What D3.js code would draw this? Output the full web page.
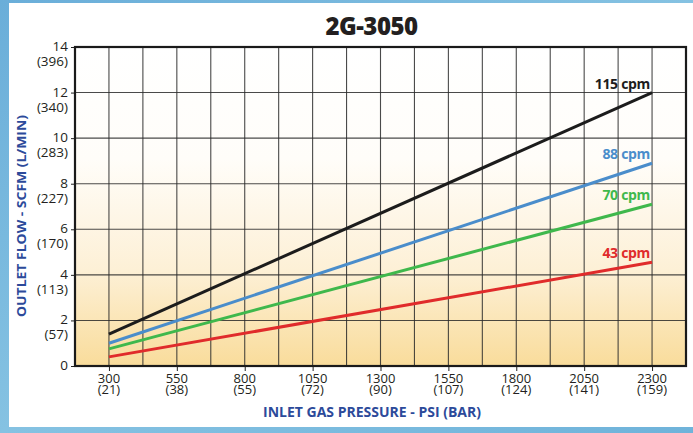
<!DOCTYPE html>
<html>
<head>
<meta charset="utf-8">
<script src="https://cdn.jsdelivr.net/npm/d3@7"></script>
<style>
html,body{margin:0;padding:0;background:#7ab6da;}
svg{display:block;}
</style>
</head>
<body>
<svg id="chart" width="693" height="433"></svg>
<script>
// ---- data ----
const pressures = [300, 2300];
const seriesNames = ["115 cpm", "88 cpm", "70 cpm", "43 cpm"];
const seriesColors = ["#1c1c1c", "#4a8dcb", "#3fb84c", "#e02b2b"];
const flow115 = [1.4, 12.0];
const flow88 = [1.0, 8.9];
const flow70 = [0.75, 7.1];
const flow43 = [0.4, 4.55];
const xTickPsi = [300, 550, 800, 1050, 1300, 1550, 1800, 2050, 2300];
const xTickBar = ["(21)", "(38)", "(55)", "(72)", "(90)", "(107)", "(124)", "(141)", "(159)"];
const yTickScfm = [0, 2, 4, 6, 8, 10, 12, 14];
const yTickLmin = ["", "(57)", "(113)", "(170)", "(227)", "(283)", "(340)", "(396)"];

const seriesValues = [flow115, flow88, flow70, flow43];

const svg = d3.select("#chart");
const W = 693, H = 433;
const font = "'Open Sans', 'Noto Sans', sans-serif";

// frame
const defs = svg.append("defs");
const bgGrad = defs.append("linearGradient").attr("id", "bgGrad")
  .attr("x1", 0).attr("y1", 0).attr("x2", 0).attr("y2", 1);
bgGrad.append("stop").attr("offset", "0%").attr("stop-color", "#ffffff");
bgGrad.append("stop").attr("offset", "35%").attr("stop-color", "#fffdf9");
bgGrad.append("stop").attr("offset", "70%").attr("stop-color", "#fdf0d6");
bgGrad.append("stop").attr("offset", "100%").attr("stop-color", "#f9dc9b");

const frameGrad = defs.append("linearGradient").attr("id", "frameGrad")
  .attr("x1", 0).attr("y1", 0).attr("x2", 1).attr("y2", 1);
frameGrad.append("stop").attr("offset", "0%").attr("stop-color", "#6aaed9");
frameGrad.append("stop").attr("offset", "50%").attr("stop-color", "#85c2e2");
frameGrad.append("stop").attr("offset", "100%").attr("stop-color", "#6fb3da");

svg.append("rect").attr("x", 0).attr("y", 0).attr("width", W).attr("height", H).attr("fill", "url(#frameGrad)");
svg.append("rect").attr("x", 9).attr("y", 3).attr("width", W - 9).attr("height", 424).attr("fill", "#ffffff");

// scales
const x = d3.scaleLinear().domain([175, 2425]).range([75, 686]);
const y = d3.scaleLinear().domain([0, 14]).range([366, 47]);

// plot background
svg.append("rect")
  .attr("x", x(175)).attr("y", y(14))
  .attr("width", x(2425) - x(175)).attr("height", y(0) - y(14))
  .attr("fill", "url(#bgGrad)");

// grid
const gridX = d3.range(175 + 125, 2425, 125);
svg.append("g").selectAll("line").data(gridX).join("line")
  .attr("x1", d => x(d)).attr("x2", d => x(d))
  .attr("y1", y(14)).attr("y2", y(0))
  .attr("stroke", "#2a2a2a").attr("stroke-opacity", 0.85).attr("stroke-width", 1.1);
svg.append("g").selectAll("line").data(yTickScfm.slice(1, -1)).join("line")
  .attr("x1", x(175)).attr("x2", x(2425))
  .attr("y1", d => y(d)).attr("y2", d => y(d))
  .attr("stroke", "#2a2a2a").attr("stroke-opacity", 0.85).attr("stroke-width", 1.1);

// axes ticks
const xAxis = d3.axisBottom(x).tickValues(xTickPsi).tickSize(5).tickFormat("");
const gx = svg.append("g").attr("transform", `translate(0,${y(0)})`).call(xAxis);
gx.select(".domain").remove();
gx.selectAll("line").attr("stroke", "#222");

const yAxis = d3.axisLeft(y).tickValues(yTickScfm).tickSize(4).tickFormat("");
const gy = svg.append("g").attr("transform", `translate(${x(175)},0)`).call(yAxis);
gy.select(".domain").remove();
gy.selectAll("line").attr("stroke", "#222");

// plot border
svg.append("rect")
  .attr("x", x(175)).attr("y", y(14))
  .attr("width", x(2425) - x(175)).attr("height", y(0) - y(14))
  .attr("fill", "none").attr("stroke", "#1a1a1a").attr("stroke-width", 2.2);

// x tick labels (two lines in one text)
const xl = svg.append("g").attr("font-family", font).attr("font-size", 13).attr("fill", "#231f20").attr("text-anchor", "middle");
xTickPsi.forEach((v, i) => {
  const t = xl.append("text").attr("x", x(v)).attr("y", 382.5);
  t.append("tspan").attr("x", x(v)).text(v);
  t.append("tspan").attr("x", x(v)).attr("dy", 11).text(xTickBar[i]);
});

// y tick labels
const yl = svg.append("g").attr("font-family", font).attr("font-size", 13.5).attr("fill", "#231f20").attr("text-anchor", "end");
yTickScfm.forEach((v, i) => {
  const t = yl.append("text").attr("x", 68).attr("y", y(v) + 4);
  t.append("tspan").attr("x", 68).text(v);
  if (yTickLmin[i]) t.append("tspan").attr("x", 68).attr("dy", 15).text(yTickLmin[i]);
});

// lines
const line = d3.line().x((d, i) => x(pressures[i])).y(d => y(d));
seriesValues.forEach((vals, k) => {
  svg.append("path").datum(vals)
    .attr("d", line)
    .attr("fill", "none")
    .attr("stroke", seriesColors[k])
    .attr("stroke-width", 3);
  svg.append("text")
    .attr("x", x(pressures[1]) - 2)
    .attr("y", y(vals[1]) - 4)
    .attr("text-anchor", "end")
    .attr("font-family", font).attr("font-weight", 700).attr("font-size", 14)
    .attr("letter-spacing", -0.3)
    .attr("fill", seriesColors[k])
    .text(seriesNames[k]);
});

// titles
svg.append("text")
  .attr("x", 371.5).attr("y", 35)
  .attr("text-anchor", "middle")
  .attr("font-family", font).attr("font-weight", 800).attr("font-size", 24)
  .attr("fill", "#231f20")
  .attr("letter-spacing", -0.5)
  .text("2G-3050");

svg.append("text")
  .attr("x", 372).attr("y", 417)
  .attr("text-anchor", "middle")
  .attr("font-family", font).attr("font-weight", 700).attr("font-size", 14)
  .attr("fill", "#2c4a9a")
  .attr("textLength", 218).attr("lengthAdjust", "spacingAndGlyphs")
  .text("INLET GAS PRESSURE - PSI (BAR)");

svg.append("text")
  .attr("transform", "translate(26,216) rotate(-90)")
  .attr("text-anchor", "middle")
  .attr("font-family", font).attr("font-weight", 700).attr("font-size", 13)
  .attr("fill", "#2c4a9a")
  .attr("textLength", 202).attr("lengthAdjust", "spacingAndGlyphs")
  .text("OUTLET FLOW - SCFM  (L/MIN)");
</script>
</body>
</html>
